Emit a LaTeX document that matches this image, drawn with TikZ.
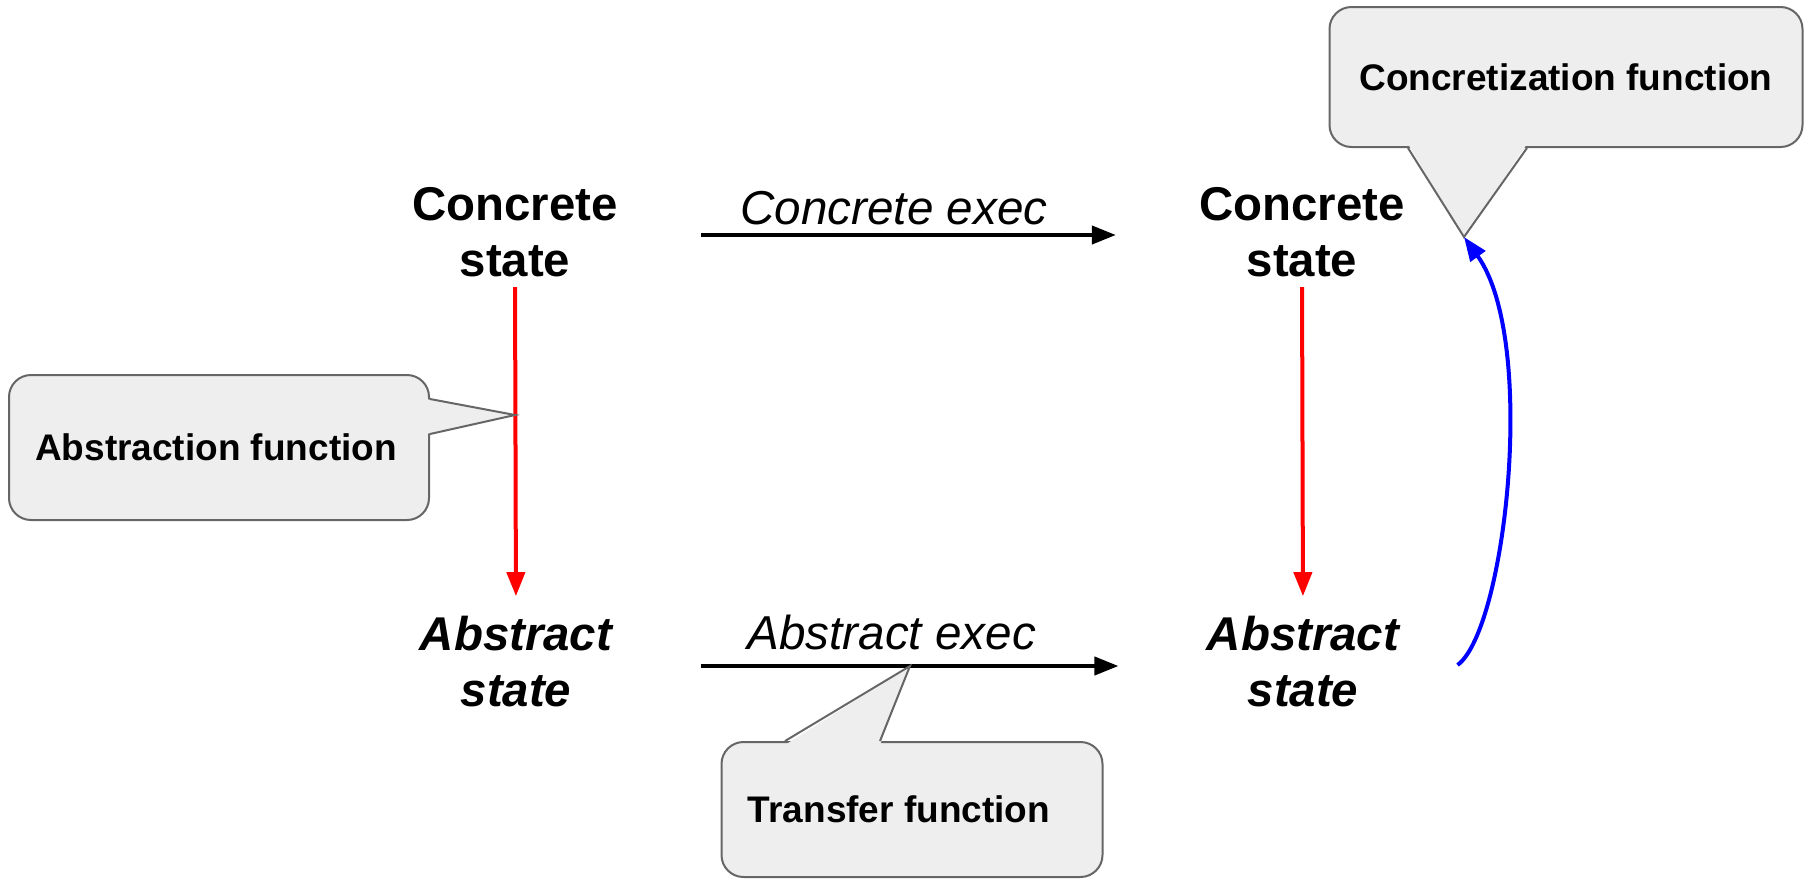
\documentclass[tikz,border=0pt]{standalone}
\usepackage{fontspec}
\setmainfont{Liberation Sans}
\usetikzlibrary{arrows.meta}
\definecolor{bubblefill}{HTML}{EEEEEE}
\definecolor{bubbleline}{HTML}{666666}

\begin{document}
\begin{tikzpicture}[x=0.5pt, y=-0.5pt, >={Triangle[length=12pt, width=9pt]},
    state/.style={font=\fontsize{23.7}{28}\selectfont\bfseries, align=center, inner sep=0pt},
    abst/.style={state, font=\fontsize{23.7}{28}\selectfont\bfseries\itshape},
    lbl/.style={font=\fontsize{23.8}{28}\selectfont\itshape, inner sep=0pt},
    bubble/.style={draw=bubbleline, fill=bubblefill, line width=1pt, rounded corners=11pt, font=\fontsize{18.5}{22}\selectfont\bfseries},
    tip/.style={draw=bubbleline, line width=1pt},
    exec/.style={->, line width=2pt},
    absfun/.style={->, red, line width=2pt},
    confun/.style={->, blue, line width=2pt}]
    \useasboundingbox (0,0) rectangle (1810,879);

    \node[state] (c1) at (515,232) {Concrete\\state};
    \node[state] (c2) at (1302,232) {Concrete\\state};
    \node[abst] (a1) at (516,662) {Abstract\\state};
    \node[abst] (a2) at (1303,662) {Abstract\\state};

    \draw[exec, shorten <=41.5pt, shorten >=41.5pt] ([yshift=-1.5pt]c1.east) -- node[lbl, pos=0.475, above=4pt] {Concrete exec} ([yshift=-1.5pt]c2.west);
    \draw[exec, shorten <=44pt, shorten >=44pt] ([yshift=-2pt]a1.east) -- node[lbl, pos=0.47, above=7pt] {Abstract exec} ([yshift=-2pt]a2.west);
    \draw[absfun, shorten <=5pt, shorten >=10pt] (c1.south) -- (a1.north);
    \draw[absfun, shorten <=5pt, shorten >=10pt] (c2.south) -- (a2.north);

    % callouts
    \node[bubble, minimum width=236.5pt, minimum height=70pt] (cfun) at (1566,77) {Concretization function};
    \node[bubble, minimum width=210pt, minimum height=72.5pt] (afun) at (219,447.5) {Abstraction function\hspace*{3pt}};
    \node[bubble, minimum width=190.5pt, minimum height=67.5pt] (tfun) at (912,809.5) {Transfer function\hspace*{13pt}};

    \coordinate (ctip) at (1464,237);
    \coordinate (atip) at (c1 |- 0,415);
    \coordinate (ttip) at (910,666);

    \fill[bubblefill] ([xshift=-79pt, yshift=2pt]cfun.south) -- (ctip) -- ([xshift=-19.5pt, yshift=2pt]cfun.south) -- cycle;
    \draw[tip] ([xshift=-79pt]cfun.south) -- (ctip) -- ([xshift=-19.5pt]cfun.south);
    \fill[bubblefill] ([xshift=-2pt, yshift=24.25pt]afun.east) -- (atip) -- ([xshift=-2pt, yshift=6.75pt]afun.east) -- cycle;
    \draw[tip] ([yshift=24.25pt]afun.east) -- (atip) -- ([yshift=6.75pt]afun.east);
    \fill[bubblefill] ([xshift=-63.5pt, yshift=-2pt]tfun.north) -- (ttip) -- ([xshift=-16pt, yshift=-2pt]tfun.north) -- cycle;
    \draw[tip] ([xshift=-63.5pt]tfun.north) -- (ttip) -- ([xshift=-16pt]tfun.north);

    \draw[confun] ([xshift=29pt, yshift=-1.5pt]a2.east) .. controls +(48,-35) and +(74,103) .. (ctip);
\end{tikzpicture}
\end{document}
